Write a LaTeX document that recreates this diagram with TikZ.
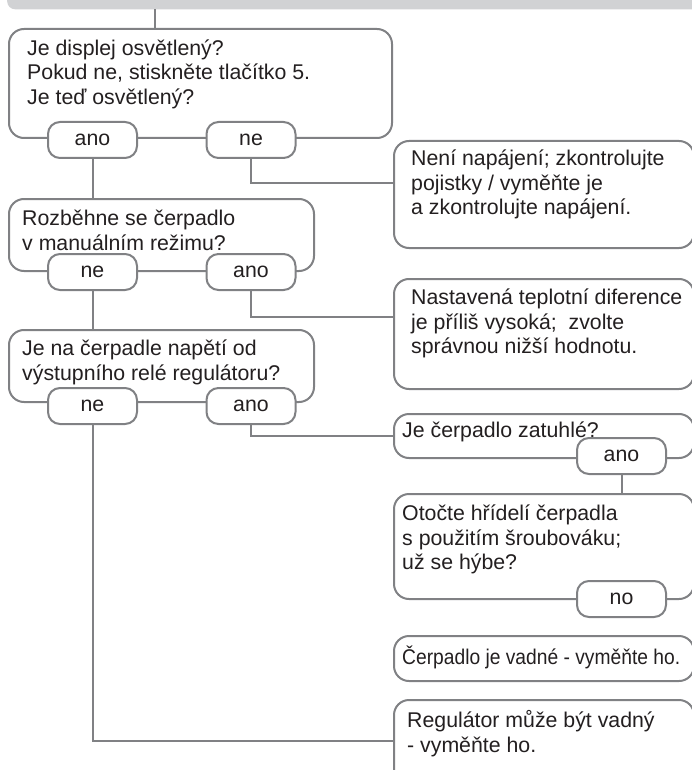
\documentclass[tikz,border=0pt]{standalone}
\usepackage{fontspec}
\setmainfont{Liberation Sans}
\newfontfamily\narrowfont[FakeStretch=0.903]{Liberation Sans}
\usepackage{tikz}
\definecolor{linegray}{RGB}{128,129,132}
\definecolor{bargray}{RGB}{209,210,212}
\definecolor{inkgray}{RGB}{35,31,32}

\begin{document}
\begin{tikzpicture}[x=1pt,y=-1pt,
  box/.style={draw=linegray,line width=2pt,rounded corners=15pt,fill=white,anchor=north west,inner sep=0pt},
  pill/.style={draw=linegray,line width=2pt,rounded corners=12pt,fill=white,minimum width=89pt,minimum height=36pt,inner sep=0pt,text=inkgray,font=\fontsize{21.3}{25}\selectfont},
  txt/.style={anchor=base west,align=left,inner sep=0pt,text=inkgray,font=\fontsize{21.3}{24.5}\selectfont},
  wire/.style={draw=linegray,line width=2pt}]
  \useasboundingbox (0,0) rectangle (691,770);
  % header bar
  \node[fill=bargray,rounded corners=8pt,anchor=south west,minimum width=720pt,minimum height=40pt] (top) at (7,9.5) {};
  % question boxes (left)
  \node[box,minimum width=383pt,minimum height=109pt] (q1) at (8,28) {};
  \node[box,minimum width=305pt,minimum height=72pt] (q2) at (8,198) {};
  \node[box,minimum width=305pt,minimum height=72pt] (q3) at (8,329) {};
  % answer boxes (right)
  \node[box,minimum width=300pt,minimum height=107pt] (r1) at (393,140) {};
  \node[box,minimum width=300pt,minimum height=110pt] (r2) at (393,278) {};
  \node[box,minimum width=300pt,minimum height=44pt] (r3) at (393,413) {};
  \node[box,minimum width=300pt,minimum height=105pt] (r4) at (393,493) {};
  \node[box,minimum width=300pt,minimum height=45pt] (r5) at (393,635) {};
  \node[box,minimum width=300pt,minimum height=101pt] (r6) at (393,699) {};
  % texts (base = last line)
  \node[txt] (q1t) at (27,104.5) {Je displej osvětlený?\\Pokud ne, stiskněte tlačítko 5.\\Je teď osvětlený?};
  \node[txt] (q2t) at (22,250) {Rozběhne se čerpadlo\\v manuálním režimu?};
  \node[txt] (q3t) at (22,380) {Je na čerpadle napětí od\\výstupního relé regulátoru?};
  \node[txt] (r1t) at (411,214.5) {Není napájení; zkontrolujte\\pojistky / vyměňte je\\a zkontrolujte napájení.};
  \node[txt] (r2t) at (411,353.5) {Nastavená teplotní diference\\je příliš vysoká;\ \ zvolte\\správnou nižší hodnotu.};
  \node[txt] (r3t) at (402,437.5) {Je čerpadlo zatuhlé?};
  \node[txt] (r4t) at (402,569.5) {Otočte hřídelí čerpadla\\s použitím šroubováku;\\už se hýbe?};
  \node[txt,font=\narrowfont\fontsize{21.3}{24.5}\selectfont] (r5t) at (402,664.5) {Čerpadlo je vadné - vyměňte ho.};
  \node[txt] (r6t) at (407,752) {Regulátor může být vadný\\- vyměňte ho.};
  % connectors
  \draw[wire] ([xshift=147pt]q1.north west) -- ([xshift=147pt]q1.north west |- top.south);
  \draw[wire] (92.5,150) coordinate (q1anoend) -- (q1anoend |- q2.north);
  \draw[wire] (251,150) coordinate (q1neend) |- ([yshift=-43pt]r1.north west);
  \draw[wire] (92.5,280) coordinate (q2neend) -- (q2neend |- q3.north);
  \draw[wire] (251,280) coordinate (q2anoend) |- ([yshift=-39pt]r2.north west);
  \draw[wire] (251,415) coordinate (q3anoend) |- (r3.west);
  \draw[wire] (92.5,415) coordinate (q3neend) |- ([yshift=-42pt]r6.north west);
  \draw[wire] (621.5,465) coordinate (r3anoend) -- (r3anoend |- r4.north);
  % answer pills
  \node[pill] (q1ano) at (92.5,140) {ano};
  \node[pill] (q1ne) at (251,140) {ne};
  \node[pill] (q2ne) at (92.5,272) {ne};
  \node[pill] (q2ano) at (251,272) {ano};
  \node[pill] (q3ne) at (92.5,406) {ne};
  \node[pill] (q3ano) at (251,406) {ano};
  \node[pill] (r3ano) at (621.5,456) {ano};
  \node[pill] (r4no) at (621.5,599) {no};
\end{tikzpicture}
\end{document}
